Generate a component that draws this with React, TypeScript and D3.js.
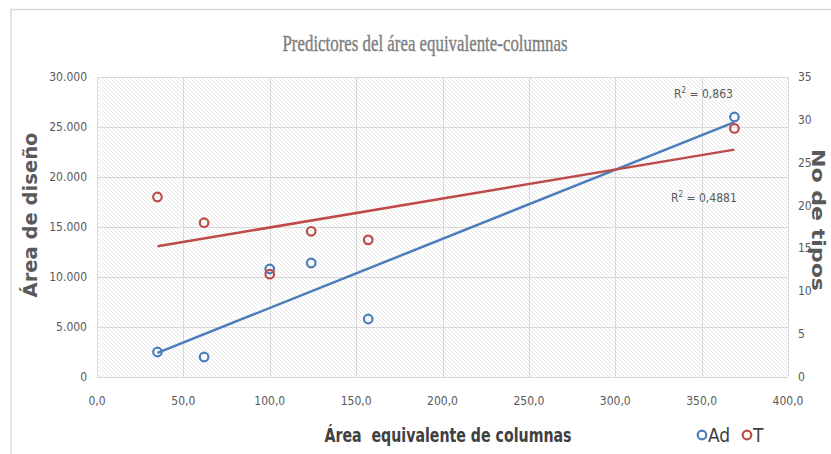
import React, { useEffect, useRef } from 'react';
import * as d3 from 'd3';

// área equivalente de columnas (shared x)
const areaEq = [35, 62, 100, 124, 157, 369];
// Ad: área de diseño (left axis)
const adValues = [2500, 2000, 10800, 11400, 5800, 26000];
// T: no de tipos (right axis)
const tValues = [21, 18, 12, 17, 16, 29];

const xTicks = [0, 50, 100, 150, 200, 250, 300, 350, 400];
const yLeftTicks = [0, 5000, 10000, 15000, 20000, 25000, 30000];
const yRightTicks = [0, 5, 10, 15, 20, 25, 30, 35];

const BLUE = '#4a7ebb';
const RED = '#be4b48';
const NARROW = '"Liberation Sans Narrow", "DejaVu Sans Condensed", sans-serif';

function linFit(xs: number[], ys: number[]) {
  const mx = d3.mean(xs)!;
  const my = d3.mean(ys)!;
  let sxy = 0, sxx = 0, syy = 0;
  xs.forEach((x, i) => {
    sxy += (x - mx) * (ys[i] - my);
    sxx += (x - mx) ** 2;
    syy += (ys[i] - my) ** 2;
  });
  const slope = sxy / sxx;
  return { slope, intercept: my - slope * mx, r2: (sxy * sxy) / (sxx * syy) };
}

const fmtX = (v: number) => v.toFixed(1).replace('.', ',');
const fmtL = (v: number) => (v === 0 ? '0' : d3.format(',')(v).replace(/,/g, '.'));

const App = () => {
  const ref = useRef<SVGSVGElement | null>(null);

  useEffect(() => {
    const svg = d3.select(ref.current);
    svg.selectAll('*').remove();

    const left = 97, right = 788, top = 77, bottom = 377;
    const x = d3.scaleLinear().domain([0, 400]).range([left, right]);
    const yL = d3.scaleLinear().domain([0, 30000]).range([bottom, top]);
    const yR = d3.scaleLinear().domain([0, 35]).range([bottom, top]);

    const defs = svg.append('defs');
    const pat = defs.append('pattern')
      .attr('id', 'hatch')
      .attr('patternUnits', 'userSpaceOnUse')
      .attr('width', 4).attr('height', 4);
    pat.append('rect').attr('width', 4).attr('height', 4).attr('fill', '#ffffff');
    pat.append('path').attr('d', 'M-1,-1 L5,5 M-1,3 L1,5 M3,-1 L5,1')
      .attr('stroke', '#e8e8e8').attr('stroke-width', 1);

    // chart border
    svg.append('path').attr('d', 'M11,460 L11,9.5 L840,9.5')
      .attr('fill', 'none').attr('stroke', '#d9d9d9').attr('stroke-width', 1.5);

    // title
    svg.append('text')
      .attr('x', 425).attr('y', 51)
      .attr('text-anchor', 'middle')
      .attr('font-family', '"Liberation Serif", "DejaVu Serif", serif')
      .attr('font-size', 23)
      .attr('stroke', '#7f7f7f').attr('stroke-width', 0.4)
      .attr('fill', '#7f7f7f')
      .attr('textLength', 285).attr('lengthAdjust', 'spacingAndGlyphs')
      .text('Predictores del área equivalente-columnas');

    // plot area
    svg.append('rect')
      .attr('x', left).attr('y', top)
      .attr('width', right - left).attr('height', bottom - top)
      .attr('fill', 'url(#hatch)');

    const grid = svg.append('g').attr('stroke', '#d9d9d9').attr('stroke-width', 1);
    yLeftTicks.forEach(t => {
      grid.append('line').attr('x1', left).attr('x2', right)
        .attr('y1', Math.round(yL(t)) + 0.5).attr('y2', Math.round(yL(t)) + 0.5);
    });
    xTicks.forEach(t => {
      grid.append('line').attr('y1', top).attr('y2', bottom)
        .attr('x1', Math.round(x(t)) + 0.5).attr('x2', Math.round(x(t)) + 0.5);
    });

    const tickStyle = (sel: any) => sel
      .attr('font-family', NARROW).attr('font-size', 12).attr('fill', '#595959');

    svg.append('g').selectAll('text').data(yLeftTicks).join('text')
      .call(tickStyle)
      .attr('x', 87).attr('y', d => yL(d) + 4)
      .attr('text-anchor', 'end')
      .text(d => fmtL(d));

    svg.append('g').selectAll('text').data(yRightTicks).join('text')
      .call(tickStyle)
      .attr('x', 798).attr('y', d => yR(d) + 4)
      .attr('text-anchor', 'start')
      .text(d => String(d));

    svg.append('g').selectAll('text').data(xTicks).join('text')
      .call(tickStyle)
      .attr('x', d => x(d)).attr('y', 405)
      .attr('text-anchor', 'middle')
      .text(d => fmtX(d));

    // axis titles
    svg.append('text')
      .attr('transform', 'translate(37,215) rotate(-90)')
      .attr('text-anchor', 'middle')
      .attr('font-family', '"DejaVu Sans", sans-serif').attr('font-weight', 'bold')
      .attr('font-size', 19).attr('fill', '#595959')
      .attr('textLength', 165).attr('lengthAdjust', 'spacingAndGlyphs')
      .text('Área de diseño');

    svg.append('text')
      .attr('transform', 'translate(812,220) rotate(90)')
      .attr('text-anchor', 'middle')
      .attr('font-family', '"DejaVu Sans", sans-serif').attr('font-weight', 'bold')
      .attr('font-size', 17).attr('fill', '#595959')
      .attr('textLength', 142).attr('lengthAdjust', 'spacingAndGlyphs')
      .text('No de tipos');

    svg.append('text')
      .attr('x', 448).attr('y', 442)
      .attr('text-anchor', 'middle')
      .attr('font-family', NARROW).attr('font-weight', 'bold')
      .attr('font-size', 19).attr('fill', '#404040')
      .attr('textLength', 247).attr('lengthAdjust', 'spacingAndGlyphs')
      .attr('xml:space', 'preserve')
      .text('Área  equivalente de columnas');

    // trendlines
    const fitAd = linFit(areaEq, adValues);
    const fitT = linFit(areaEq, tValues);
    const x0 = d3.min(areaEq)!, x1 = d3.max(areaEq)!;
    const line = d3.line<[number, number]>();
    svg.append('path')
      .attr('d', line([[x(x0), yL(fitAd.intercept + fitAd.slope * x0)], [x(x1), yL(fitAd.intercept + fitAd.slope * x1)]]))
      .attr('stroke', BLUE).attr('stroke-width', 2.5).attr('fill', 'none');
    svg.append('path')
      .attr('d', line([[x(x0), yR(fitT.intercept + fitT.slope * x0)], [x(x1), yR(fitT.intercept + fitT.slope * x1)]]))
      .attr('stroke', RED).attr('stroke-width', 2.5).attr('fill', 'none');

    // points
    svg.append('g').selectAll('circle').data(areaEq).join('circle')
      .attr('cx', d => x(d)).attr('cy', (d, i) => yL(adValues[i]))
      .attr('r', 4.3).attr('fill', 'none').attr('stroke', BLUE).attr('stroke-width', 2.2);
    svg.append('g').selectAll('circle').data(areaEq).join('circle')
      .attr('cx', d => x(d)).attr('cy', (d, i) => yR(tValues[i]))
      .attr('r', 4.3).attr('fill', 'none').attr('stroke', RED).attr('stroke-width', 2.2);

    // R² labels
    const r2Label = (v: number, digits: number, lx: number, ly: number) => {
      const t = svg.append('text').call(tickStyle).attr('x', lx).attr('y', ly);
      t.append('tspan').text('R');
      t.append('tspan').attr('font-size', 8).attr('dy', -5).text('2');
      t.append('tspan').attr('dy', 5).text(' = ' + v.toFixed(digits).replace('.', ','));
    };
    r2Label(fitAd.r2, 3, 674, 98);
    r2Label(0.4881, 4, 671, 202);

    // legend
    const lg = svg.append('g');
    [{ c: BLUE, label: 'Ad', cx: 702 }, { c: RED, label: 'T', cx: 747 }].forEach(item => {
      lg.append('circle').attr('cx', item.cx).attr('cy', 435).attr('r', 4.3)
        .attr('fill', 'none').attr('stroke', item.c).attr('stroke-width', 2.2);
      lg.append('text').attr('x', item.cx + 6).attr('y', 442)
        .attr('font-family', NARROW).attr('font-size', 19).attr('fill', '#404040')
        .text(item.label);
    });
  }, []);

  return (
    <svg ref={ref} width={831} height={454}
      style={{ position: 'absolute', left: 0, top: 0, background: '#ffffff' }} />
  );
};

export default App;
